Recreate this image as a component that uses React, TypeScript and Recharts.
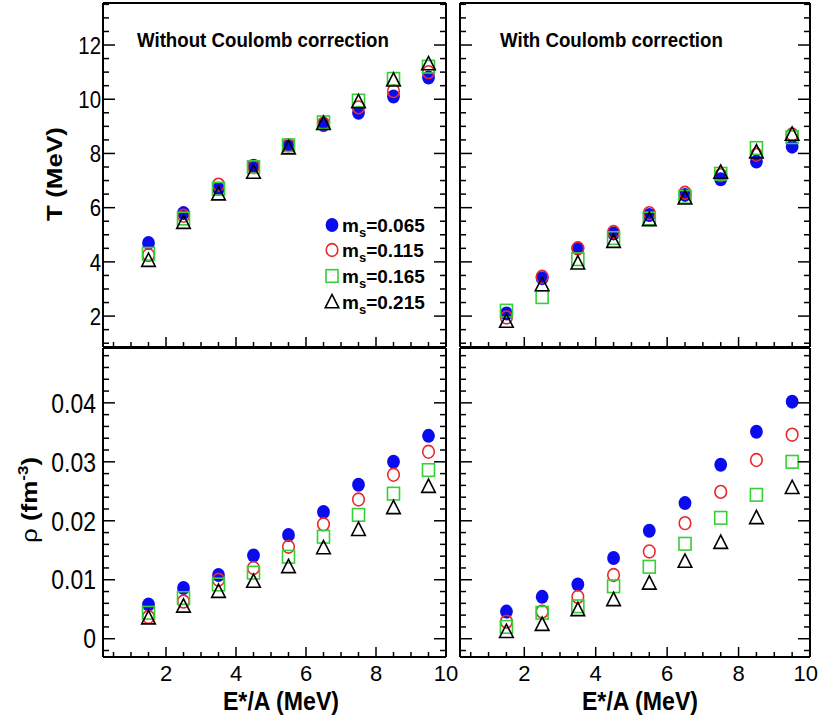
import React from "react";
import { ScatterChart, Scatter, XAxis, YAxis } from "recharts";

const W = 819;
const H = 719;
const FONT = '"Liberation Sans", Arial, Helvetica, sans-serif';
const BLUE = "#0b0bef";
const RED = "#e8282c";
const GREEN = "#35d035";

// excitation energy per nucleon, bin centres
const energies = [1.5, 2.5, 3.5, 4.5, 5.5, 6.5, 7.5, 8.5, 9.5];

// T (MeV), without Coulomb correction
const tNoC065 = [4.7, 5.8, 6.7, 7.55, 8.3, 9.05, 9.5, 10.1, 10.8];
const tNoC115 = [4.25, 5.7, 6.85, 7.5, 8.3, 9.1, 9.7, 10.3, 11.0];
const tNoC165 = [4.3, 5.6, 6.7, 7.5, 8.3, 9.15, 9.95, 10.75, 11.2];
const tNoC215 = [4.05, 5.45, 6.5, 7.3, 8.2, 9.1, 9.9, 10.7, 11.3];

// T (MeV), with Coulomb correction
const tC065 = [2.1, 3.4, 4.5, 5.05, 5.73, 6.47, 7.05, 7.7, 8.25];
const tC115 = [1.95, 3.45, 4.5, 5.1, 5.8, 6.55, 7.2, 7.95, 8.7];
const tC165 = [2.2, 2.7, 4.1, 4.88, 5.6, 6.4, 7.25, 8.2, 8.6];
const tC215 = [1.8, 3.15, 3.95, 4.75, 5.55, 6.35, 7.3, 8.05, 8.7];

// rho (fm^-3), without Coulomb correction
const rNoC065 = [0.0058, 0.0086, 0.0108, 0.0141, 0.0176, 0.0215, 0.0261, 0.03, 0.0344];
const rNoC115 = [0.0037, 0.0063, 0.01, 0.012, 0.0156, 0.0194, 0.0236, 0.0278, 0.0317];
const rNoC165 = [0.0044, 0.0069, 0.0092, 0.0112, 0.0139, 0.0173, 0.021, 0.0246, 0.0286];
const rNoC215 = [0.0035, 0.0055, 0.008, 0.0097, 0.0122, 0.0154, 0.0185, 0.0222, 0.0258];

// rho (fm^-3), with Coulomb correction
const rC065 = [0.0046, 0.0071, 0.0092, 0.0137, 0.0183, 0.023, 0.0295, 0.0351, 0.0402];
const rC115 = [0.0029, 0.0046, 0.0071, 0.0108, 0.0148, 0.0196, 0.0249, 0.0303, 0.0346];
const rC165 = [0.002, 0.0044, 0.0055, 0.0089, 0.0122, 0.0161, 0.0205, 0.0244, 0.03];
const rC215 = [0.0012, 0.0024, 0.0049, 0.0066, 0.0094, 0.0131, 0.0163, 0.0205, 0.0256];

const legendLabels = ["0.065", "0.115", "0.165", "0.215"];

const xMajor = [2, 4, 6, 8, 10];
const tMajor = [2, 4, 6, 8, 10, 12];
const rhoMajor = [0, 0.01, 0.02, 0.03, 0.04];

const steps = (from: number, to: number, step: number) => {
  const out: number[] = [];
  for (let v = from; v <= to + step / 1000; v += step) out.push(Math.round(v * 1e6) / 1e6);
  return out;
};
const xTicks = steps(0.5, 10, 0.5);
const tTicks = steps(1, 13.5, 0.5);
const rhoTicks = steps(-0.002, 0.048, 0.002);

function Txt({ x, y, size, bold, anchor = "start", sx = 0.85, rotate = 0, children }: any) {
  return (
    <g transform={`translate(${x},${y}) scale(${sx},1)${rotate ? ` rotate(${rotate})` : ""}`}>
      <text x={0} y={0} fontSize={size} fontWeight={bold ? "bold" : "normal"} textAnchor={anchor} fontFamily={FONT} fill="#000">
        {children}
      </text>
    </g>
  );
}

const tickRenderer = (side: string, majors: number[], fmt: any, o: any) => (props: any) => {
  const { x, y, payload } = props;
  const v = payload.value;
  const major = majors.some((m) => Math.abs(m - v) < 1e-9);
  const len = major ? o.major : o.minor;
  let x2 = x;
  let y2 = y;
  if (side === "left") x2 = x + len;
  if (side === "right") x2 = x - len;
  if (side === "bottom") y2 = y - len;
  if (side === "top") y2 = y + len;
  // keep the last label inside the page edge
  const label = fmt ? fmt(v) : "";
  const halfW = label.length * o.size * 0.28;
  const atEdge = side === "bottom" && x + halfW > W - 1;
  return (
    <g>
      <line x1={x} y1={y} x2={x2} y2={y2} stroke="#000" strokeWidth={1.5} />
      {fmt && major && side === "left" && (
        <Txt x={x - o.gap} y={y + o.size * 0.36} size={o.size} anchor="end">{label}</Txt>
      )}
      {fmt && major && side === "bottom" && (
        <Txt x={atEdge ? W - 1 : x} y={y + o.gap} size={o.size} anchor={atEdge ? "end" : "middle"} sx={1}>
          {label}
        </Txt>
      )}
    </g>
  );
};

const fullCircle = (p: any) => <ellipse cx={p.cx} cy={p.cy} rx={6.4} ry={7} fill={BLUE} />;
const openCircle = (p: any) => (
  <ellipse cx={p.cx} cy={p.cy} rx={5.8} ry={6.4} fill="none" stroke={RED} strokeWidth={1.6} />
);
const openSquare = (p: any) => (
  <rect x={p.cx - 6} y={p.cy - 6.3} width={12} height={12.6} fill="none" stroke={GREEN} strokeWidth={1.6} />
);
const openTriangle = (p: any) => (
  <polygon
    points={`${p.cx},${p.cy - 7.5} ${p.cx - 6.8},${p.cy + 5.8} ${p.cx + 6.8},${p.cy + 5.8}`}
    fill="none"
    stroke="#000"
    strokeWidth={1.6}
  />
);
const shapes = [fullCircle, openCircle, openSquare, openTriangle];

const toPoints = (vals: number[]) => energies.map((e, i) => ({ x: e, y: vals[i] }));

function Panel({ box, yDomain, yTicks, yMajor, yFmt, yLab, xLabels, series }: any) {
  const [l, t, r, b] = box;
  const xFmt = xLabels ? (v: number) => String(v) : null;
  const axisLine = { stroke: "#000", strokeWidth: 2 };
  // every axis is 1px thick, so the margins give back that pixel
  return (
    <div style={{ position: "absolute", left: 0, top: 0 }}>
      <ScatterChart width={W} height={H} margin={{ left: l - 1, top: t - 1, right: W - r - 1, bottom: H - b - 1 }}>
        <XAxis
          xAxisId="b"
          type="number"
          dataKey="x"
          orientation="bottom"
          domain={[0.2, 10]}
          allowDataOverflow
          ticks={xTicks}
          interval={0}
          height={1}
          tickSize={0}
          tickMargin={0}
          axisLine={axisLine}
          tickLine={false}
          tick={tickRenderer("bottom", xMajor, xFmt, { major: 10, minor: 5, gap: 24, size: 22 })}
        />
        <XAxis
          xAxisId="t"
          type="number"
          orientation="top"
          domain={[0.2, 10]}
          allowDataOverflow
          ticks={xTicks}
          interval={0}
          height={1}
          tickSize={0}
          tickMargin={0}
          axisLine={axisLine}
          tickLine={false}
          tick={tickRenderer("top", xMajor, null, { major: 10, minor: 5 })}
        />
        <YAxis
          yAxisId="l"
          type="number"
          dataKey="y"
          orientation="left"
          domain={yDomain}
          allowDataOverflow
          ticks={yTicks}
          interval={0}
          width={1}
          tickSize={0}
          tickMargin={0}
          axisLine={axisLine}
          tickLine={false}
          tick={tickRenderer("left", yMajor, yFmt, yLab)}
        />
        <YAxis
          yAxisId="r"
          type="number"
          orientation="right"
          domain={yDomain}
          allowDataOverflow
          ticks={yTicks}
          interval={0}
          width={1}
          tickSize={0}
          tickMargin={0}
          axisLine={axisLine}
          tickLine={false}
          tick={tickRenderer("right", yMajor, null, { major: 12, minor: 6 })}
        />
        {series.map((vals: number[], i: number) => (
          <Scatter
            key={i}
            xAxisId="b"
            yAxisId="l"
            data={toPoints(vals)}
            shape={shapes[i]}
            isAnimationActive={false}
          />
        ))}
      </ScatterChart>
    </div>
  );
}

const tFmt = (v: number) => String(v);
const rhoFmt = (v: number) => (v === 0 ? "0" : v.toFixed(2));

export default function App() {
  const tDomain = [0.86, 13.55];
  const rDomain = [-0.0031, 0.0493];
  const topLab = { major: 12, minor: 6, gap: 2, size: 24 };
  const botLab = { major: 12, minor: 6, gap: 7, size: 27 };
  const legendRows = [225, 250, 276, 302];
  return (
    <div style={{ position: "absolute", left: 0, top: 0, width: W, height: H, background: "#fff", overflow: "hidden" }}>
      <Panel
        box={[103, 3, 446, 347]}
        yDomain={tDomain}
        yTicks={tTicks}
        yMajor={tMajor}
        yFmt={tFmt}
        yLab={topLab}
        xLabels={false}
        series={[tNoC065, tNoC115, tNoC165, tNoC215]}
      />
      <Panel
        box={[460, 3, 810, 347]}
        yDomain={tDomain}
        yTicks={tTicks}
        yMajor={tMajor}
        yFmt={null}
        yLab={topLab}
        xLabels={false}
        series={[tC065, tC115, tC165, tC215]}
      />
      <Panel
        box={[103, 348, 446, 657]}
        yDomain={rDomain}
        yTicks={rhoTicks}
        yMajor={rhoMajor}
        yFmt={rhoFmt}
        yLab={botLab}
        xLabels={true}
        series={[rNoC065, rNoC115, rNoC165, rNoC215]}
      />
      <Panel
        box={[460, 348, 810, 657]}
        yDomain={rDomain}
        yTicks={rhoTicks}
        yMajor={rhoMajor}
        yFmt={null}
        yLab={botLab}
        xLabels={true}
        series={[rC065, rC115, rC165, rC215]}
      />
      <svg width={W} height={H} style={{ position: "absolute", left: 0, top: 0, pointerEvents: "none" }}>
        <Txt x={137} y={47} size={21} bold sx={0.89}>Without Coulomb correction</Txt>
        <Txt x={500} y={47} size={21} bold sx={0.89}>With Coulomb correction</Txt>
        <Txt x={62} y={174} size={26} bold rotate={-90} anchor="middle">T (MeV)</Txt>
        <g transform="translate(37,500) scale(0.85,1) rotate(-90)">
          <text x={0} y={0} fontSize={26} textAnchor="middle" fontFamily={FONT} fill="#000">
            ρ<tspan fontWeight="bold"> (fm</tspan>
            <tspan fontWeight="bold" fontSize={17} dy={-11}>-3</tspan>
            <tspan fontWeight="bold" dy={11}>)</tspan>
          </text>
        </g>
        <Txt x={281} y={710} size={26} bold anchor="middle" sx={0.89}>E*/A (MeV)</Txt>
        <Txt x={640} y={710} size={26} bold anchor="middle" sx={0.89}>E*/A (MeV)</Txt>
        {legendLabels.map((lab, i) => {
          const cy = legendRows[i];
          return (
            <g key={lab}>
              {shapes[i]({ cx: 332, cy })}
              <text x={342} y={cy + 7} fontSize={19} fontWeight="bold" fontFamily={FONT} fill="#000">
                m<tspan fontSize={13} dy={5}>s</tspan>
                <tspan dy={-5}>={lab}</tspan>
              </text>
            </g>
          );
        })}
      </svg>
    </div>
  );
}
